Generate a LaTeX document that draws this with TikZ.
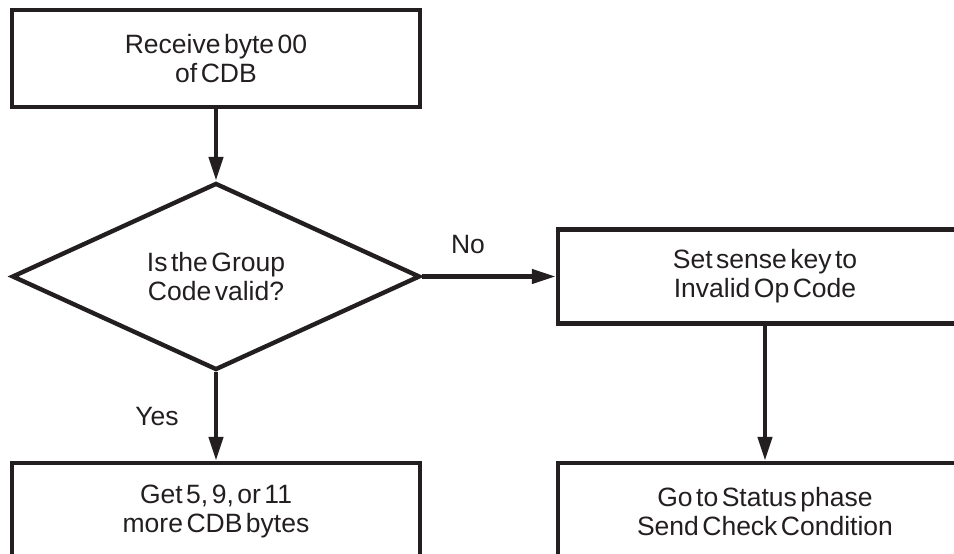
\documentclass[tikz,border=0pt]{standalone}
\usepackage{fontspec}
\setmainfont{Liberation Sans}
\usetikzlibrary{shapes.geometric,arrows.meta}
\definecolor{ink}{RGB}{35,31,32}
\newcommand\flowfont{\fontsize{26.5}{29}\selectfont\spaceskip=3.5pt\relax}
\begin{document}
\begin{tikzpicture}[x=1pt,y=1pt,
  every node/.style={text=ink},
  stepbox/.style={draw=ink, line width=4.4pt, minimum width=408pt, minimum height=97pt, inner sep=0pt, align=center, font=\flowfont},
  decision/.style={draw=ink, line width=4.4pt, shape=diamond, aspect=2.18, minimum width=408pt, minimum height=187pt, inner sep=0pt, align=center, font=\flowfont},
  flow/.style={draw=ink, line width=4.4pt, -{Triangle[length=24pt,width=14pt]}},
  lab/.style={font=\flowfont, inner sep=0pt}
]
\useasboundingbox (0,0) rectangle (954,554);
\fill[white] (0,0) rectangle (954,554);
\clip (0,0) rectangle (954,554);
\node[stepbox] (recv) at (216,495.5) {Receive byte 00\\of CDB};
\node[decision] (dec) at (216,277.5) {Is the Group\\Code valid?};
\node[stepbox, minimum width=414pt, minimum height=94pt] (sense) at (765,277.5) {Set sense key to\\Invalid Op Code};
\node[stepbox, minimum height=98pt] (get) at (216,42) {Get 5, 9, or 11\\more CDB bytes};
\node[stepbox, minimum width=414pt, minimum height=98pt] (status) at (765,42) {Go to Status phase\\Send Check Condition};
\draw[flow] (recv.south) -- (dec.north);
\draw[flow] (dec.east) -- (sense.west);
\draw[flow] (dec.south) -- (get.north);
\draw[flow] (sense.south) -- (status.north);
\node[lab] (no) at (468,309) {No};
\node[lab] (yes) at (157,137) {Yes};
\end{tikzpicture}
\end{document}
